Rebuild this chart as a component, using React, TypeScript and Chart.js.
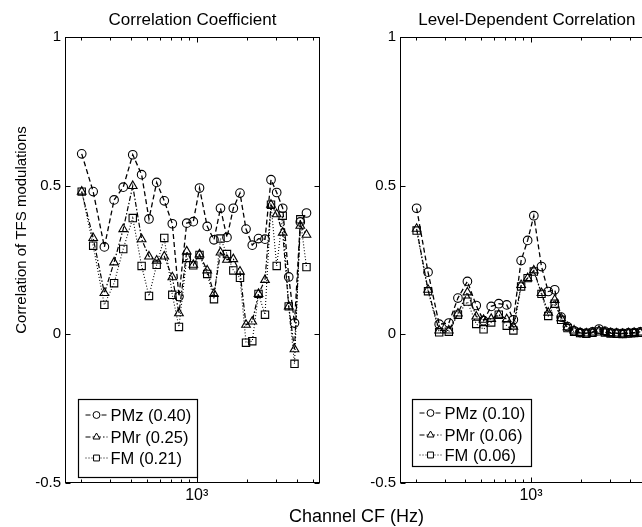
import React, { useEffect, useRef } from "react";
import { Chart, registerables } from "chart.js";
Chart.register(...registerables);

// ---------- data ----------
const channelCF = [203, 238, 278, 318, 361, 412, 466, 516, 574, 638, 713, 782, 871, 954, 1040, 1157, 1271, 1391, 1522, 1662, 1823, 1982, 2162, 2357, 2579, 2803, 3033, 3297, 3584, 3883, 4208, 4585];

const ccPMz = [0.607, 0.48, 0.294, 0.452, 0.495, 0.604, 0.537, 0.388, 0.511, 0.449, 0.372, 0.127, 0.374, 0.379, 0.492, 0.363, 0.318, 0.424, 0.326, 0.424, 0.475, 0.354, 0.3, 0.322, 0.32, 0.52, 0.477, 0.424, 0.193, 0.038, 0.378, 0.408];
const ccPMr = [0.48, 0.324, 0.139, 0.242, 0.354, 0.499, 0.32, 0.262, 0.248, 0.262, 0.192, 0.071, 0.279, 0.234, 0.269, 0.215, 0.136, 0.275, 0.251, 0.253, 0.211, 0.032, 0.043, 0.136, 0.183, 0.436, 0.404, 0.342, 0.094, -0.05, 0.365, 0.335];
const ccFM = [0.48, 0.298, 0.099, 0.172, 0.287, 0.391, 0.23, 0.129, 0.234, 0.324, 0.133, 0.025, 0.257, 0.232, 0.267, 0.203, 0.118, 0.322, 0.27, 0.215, 0.19, -0.028, -0.023, 0.136, 0.066, 0.436, 0.23, 0.399, 0.094, -0.099, 0.387, 0.226];

const ldPMz = [0.424, 0.209, 0.034, 0.038, 0.122, 0.178, 0.097, 0.046, 0.094, 0.103, 0.099, 0.049, 0.248, 0.316, 0.399, 0.228, 0.144, 0.15, 0.058, 0.026, 0.012, 0.006, 0.004, 0.008, 0.018, 0.01, 0.006, 0.004, 0.003, 0.005, 0.006, 0.008];
const ldPMr = [0.355, 0.15, 0.013, 0.013, 0.07, 0.141, 0.06, 0.049, 0.052, 0.066, 0.051, 0.026, 0.166, 0.189, 0.215, 0.139, 0.073, 0.116, 0.054, 0.024, 0.013, 0.005, 0.003, 0.006, 0.012, 0.008, 0.004, 0.003, 0.002, 0.004, 0.005, 0.006];
const ldFM = [0.349, 0.145, 0.007, 0.009, 0.066, 0.11, 0.035, 0.017, 0.04, 0.066, 0.029, 0.013, 0.161, 0.189, 0.211, 0.136, 0.062, 0.103, 0.049, 0.021, 0.009, 0.004, 0.002, 0.005, 0.01, 0.006, 0.003, 0.002, 0.001, 0.003, 0.004, 0.005];

const seriesNames = ["PMz", "PMr", "FM"];
const ccMeans = ["0.40", "0.25", "0.21"];
const ldMeans = ["0.10", "0.06", "0.06"];
const panelTitles = ["Correlation Coefficient", "Level-Dependent Correlation"];

const xTickValues = [200, 300, 400, 500, 600, 700, 800, 900, 1000, 2000, 3000, 4000, 5000];
const xMajorTicks = [1000];
const xMajorLabels = ["10³"];
const yTickValues = [-0.5, 0, 0.5, 1];
const yTickLabels = ["-0.5", "0", "0.5", "1"];
const xAxisTitle = "Channel CF (Hz)";
const yAxisTitle = "Correlation of TFS modulations";

// ---------- styles ----------
const FONT = '"Liberation Sans", Arial, Helvetica, sans-serif';
const STYLES = [
  { dash: [5, 3], point: "circle", radius: 4.3, width: 1.3 },
  { dash: [5, 2, 1.5, 2], point: "triangle", radius: 5, width: 1.2 },
  { dash: [1, 2], point: "rect", radius: 5.2, width: 1.1 },
];

function drawMarker(ctx: CanvasRenderingContext2D, style: string, x: number, y: number, r: number) {
  ctx.beginPath();
  if (style === "circle") {
    ctx.arc(x, y, r, 0, Math.PI * 2);
  } else if (style === "triangle") {
    for (let k = 0; k < 3; k++) {
      const a = (k * 2 * Math.PI) / 3;
      const px = x + Math.sin(a) * r;
      const py = y - Math.cos(a) * r;
      if (k === 0) ctx.moveTo(px, py);
      else ctx.lineTo(px, py);
    }
    ctx.closePath();
  } else {
    const s = r * Math.SQRT1_2;
    ctx.rect(x - s, y - s, 2 * s, 2 * s);
  }
  ctx.fillStyle = "#fff";
  ctx.fill();
  ctx.stroke();
}

type Panel = {
  title: string;
  yTitle?: string;
  series: number[][];
  means: string[];
  yAxisWidth: number;
  padRight: number;
  legendOffsetX: number;
  legendHeight: number;
  legendBaselines: number[];
};

function makeDecor(p: Panel) {
  return {
    id: "decor",
    afterDraw(chart: any) {
      const { ctx, chartArea: a, scales } = chart;
      const xs = scales.x;
      const ys = scales.y;
      ctx.save();
      ctx.strokeStyle = "#000";
      ctx.lineWidth = 1;
      ctx.setLineDash([]);
      const L = Math.round(a.left) + 0.5;
      const R = Math.round(a.right) - 0.5;
      const T = Math.round(a.top) + 0.5;
      const B = Math.round(a.bottom) - 0.5;
      ctx.strokeRect(L, T, R - L, B - T);
      ctx.beginPath();
      for (const v of xTickValues) {
        const px = Math.round(xs.getPixelForValue(v)) + 0.5;
        const len = xMajorTicks.includes(v) ? 5 : 3;
        ctx.moveTo(px, T);
        ctx.lineTo(px, T + len);
        ctx.moveTo(px, B);
        ctx.lineTo(px, B - len);
      }
      for (const v of yTickValues) {
        const py = Math.round(ys.getPixelForValue(v)) + 0.5;
        ctx.moveTo(L, py);
        ctx.lineTo(L + 5, py);
        ctx.moveTo(R, py);
        ctx.lineTo(R - 5, py);
      }
      ctx.stroke();

      // title
      ctx.fillStyle = "#000";
      ctx.font = `17px ${FONT}`;
      ctx.textAlign = "center";
      ctx.textBaseline = "alphabetic";
      ctx.fillText(p.title, (a.left + a.right) / 2, 25);

      // y axis title
      if (p.yTitle) {
        ctx.save();
        ctx.translate(26, 230);
        ctx.rotate(-Math.PI / 2);
        ctx.font = `15px ${FONT}`;
        ctx.textAlign = "center";
        ctx.fillText(p.yTitle, 0, 0);
        ctx.restore();
      }

      // legend
      const bx = Math.round(a.left + p.legendOffsetX) + 0.5;
      const by = 399.5;
      const bw = 119;
      ctx.fillStyle = "#fff";
      ctx.fillRect(bx, by, bw, p.legendHeight);
      ctx.strokeStyle = "#000";
      ctx.lineWidth = 1.2;
      ctx.strokeRect(bx, by, bw, p.legendHeight);
      ctx.font = `16.5px ${FONT}`;
      ctx.textAlign = "left";
      for (let i = 0; i < seriesNames.length; i++) {
        const st = STYLES[i];
        const base = p.legendBaselines[i];
        const cy = base - 6;
        ctx.lineWidth = 1;
        ctx.setLineDash(st.dash);
        ctx.beginPath();
        ctx.moveTo(bx + 7, cy);
        ctx.lineTo(bx + 29, cy);
        ctx.stroke();
        ctx.setLineDash([]);
        drawMarker(ctx, st.point, bx + 18, cy, st.radius * 0.8);
        ctx.fillStyle = "#000";
        ctx.fillText(`${seriesNames[i]} (${p.means[i]})`, bx + 32, base);
      }
      ctx.restore();
    },
  };
}

function makeConfig(p: Panel): any {
  return {
    type: "line",
    data: {
      datasets: p.series.map((vals, i) => ({
        label: seriesNames[i],
        data: channelCF.map((x, k) => ({ x, y: vals[k] })),
        borderColor: "#000",
        borderWidth: STYLES[i].width,
        borderDash: STYLES[i].dash,
        pointStyle: STYLES[i].point,
        pointRadius: STYLES[i].radius,
        pointBorderColor: "#000",
        pointBackgroundColor: "rgba(255,255,255,0)",
        pointBorderWidth: 1.1,
        fill: false,
        tension: 0,
      })),
    },
    options: {
      animation: false,
      responsive: false,
      maintainAspectRatio: false,
      events: [],
      layout: { padding: { top: 37, right: p.padRight, bottom: 0, left: 0 } },
      plugins: { legend: { display: false }, title: { display: false }, tooltip: { enabled: false } },
      scales: {
        x: {
          type: "logarithmic",
          min: 161,
          max: 5530,
          grid: { display: false, drawTicks: false },
          border: { display: false },
          afterBuildTicks: (s: any) => {
            s.ticks = xTickValues.map((v) => ({ value: v }));
          },
          afterFit: (s: any) => {
            s.height = 44;
          },
          ticks: {
            autoSkip: false,
            maxRotation: 0,
            minRotation: 0,
            padding: 3,
            color: "#000",
            font: { family: FONT, size: 16 },
            callback: (v: number) => {
              const idx = xMajorTicks.indexOf(v);
              return idx >= 0 ? xMajorLabels[idx] : "";
            },
          },
        },
        y: {
          type: "linear",
          min: -0.5,
          max: 1,
          grid: { display: false, drawTicks: false },
          border: { display: false },
          afterBuildTicks: (s: any) => {
            s.ticks = yTickValues.map((v) => ({ value: v }));
          },
          afterFit: (s: any) => {
            s.width = p.yAxisWidth;
          },
          ticks: {
            autoSkip: false,
            padding: 4,
            color: "#000",
            font: { family: FONT, size: 15 },
            callback: (v: number) => {
              const idx = yTickValues.indexOf(v);
              return idx >= 0 ? yTickLabels[idx] : "";
            },
          },
        },
      },
    },
    plugins: [makeDecor(p)],
  };
}

const leftPanel: Panel = {
  title: panelTitles[0],
  yTitle: yAxisTitle,
  series: [ccPMz, ccPMr, ccFM],
  means: ccMeans,
  yAxisWidth: 65,
  padRight: 10,
  legendOffsetX: 13,
  legendHeight: 78,
  legendBaselines: [421, 443, 464],
};

const rightPanel: Panel = {
  title: panelTitles[1],
  series: [ldPMz, ldPMr, ldFM],
  means: ldMeans,
  yAxisWidth: 70,
  padRight: 6,
  legendOffsetX: 12,
  legendHeight: 67,
  legendBaselines: [419, 441, 461],
};

function PanelChart({ panel, left }: { panel: Panel; left: number }) {
  const ref = useRef<HTMLCanvasElement | null>(null);
  useEffect(() => {
    if (!ref.current) return;
    const chart = new Chart(ref.current, makeConfig(panel));
    return () => chart.destroy();
  }, [panel]);
  return (
    <canvas
      ref={ref}
      width={330}
      height={527}
      style={{ position: "absolute", left, top: 0, width: 330, height: 527 }}
    />
  );
}

export default function App() {
  return (
    <div
      style={{
        position: "fixed",
        left: 0,
        top: 0,
        width: 642,
        height: 527,
        overflow: "hidden",
        background: "#fff",
      }}
    >
      <PanelChart panel={leftPanel} left={0} />
      <PanelChart panel={rightPanel} left={330} />
      <div
        style={{
          position: "absolute",
          left: 256,
          top: 506,
          width: 201,
          textAlign: "center",
          fontFamily: FONT,
          fontSize: 18,
          lineHeight: "20px",
          color: "#000",
          whiteSpace: "nowrap",
        }}
      >
        {xAxisTitle}
      </div>
    </div>
  );
}
